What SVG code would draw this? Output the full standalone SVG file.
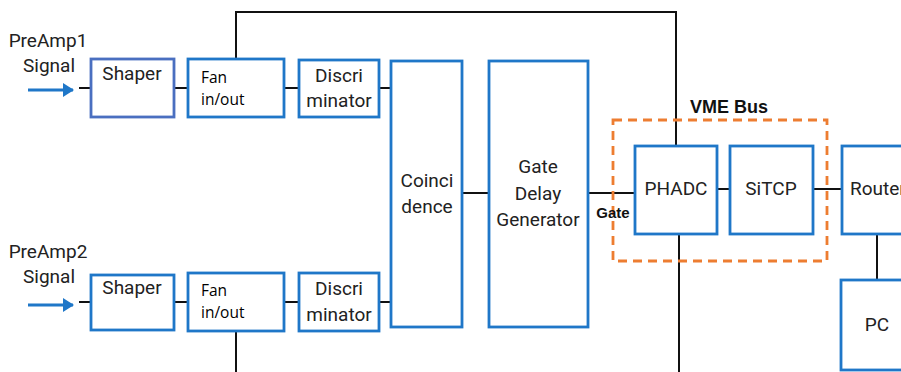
<svg xmlns="http://www.w3.org/2000/svg" width="901" height="372" viewBox="0 0 901 372">
<defs>
<marker id="ah" markerWidth="11" markerHeight="14" refX="10" refY="7" orient="auto" markerUnits="userSpaceOnUse">
<path d="M0,0 L11,7 L0,14 Z" fill="#1f77c8"/>
</marker>
<style>
.box{fill:#fff;stroke:#1f77c8;stroke-width:2.8}
.t{font-family:Roboto,"Liberation Sans",sans-serif;font-size:19px;fill:#222;text-anchor:middle}
.f{font-family:"Open Sans","Liberation Sans",sans-serif;font-size:15.5px;fill:#000}
.b{font-family:"Liberation Sans",Arial,sans-serif;font-weight:bold;fill:#111;text-anchor:middle}
.ln{stroke:#111;stroke-width:2;fill:none}
.ar{stroke:#1f77c8;stroke-width:3;fill:none}
</style>
</defs>
<rect width="901" height="372" fill="#fff"/>
<g id="connectors">
<polyline class="ln" points="236,59 236,12 676,12 676,146"/>
<line class="ln" x1="79" y1="88" x2="91" y2="88"/>
<line class="ln" x1="174" y1="88" x2="188" y2="88"/>
<line class="ln" x1="284" y1="88" x2="299" y2="88"/>
<line class="ln" x1="379" y1="88" x2="391" y2="88"/>
<line class="ln" x1="79" y1="302" x2="91" y2="302"/>
<line class="ln" x1="174" y1="302" x2="188" y2="302"/>
<line class="ln" x1="284" y1="302" x2="299" y2="302"/>
<line class="ln" x1="379" y1="302" x2="391" y2="302"/>
<line class="ln" x1="236" y1="331" x2="236" y2="372"/>
<line class="ln" x1="462" y1="193" x2="489" y2="193"/>
<line class="ln" x1="588" y1="193" x2="635" y2="193"/>
<line class="ln" x1="717" y1="189" x2="730" y2="189"/>
<line class="ln" x1="813" y1="189" x2="842" y2="189"/>
<line class="ln" x1="679" y1="234" x2="679" y2="372"/>
<line class="ln" x1="877" y1="234" x2="877" y2="280"/>
<line class="ar" x1="28" y1="90" x2="73" y2="90" marker-end="url(#ah)"/>
<line class="ar" x1="28" y1="305" x2="73" y2="305" marker-end="url(#ah)"/>
</g>
<g id="input1">
<text class="t" x="48" y="47">PreAmp1</text>
<text class="t" x="49" y="72">Signal</text>
</g>
<g id="input2">
<text class="t" x="48" y="258">PreAmp2</text>
<text class="t" x="49" y="283">Signal</text>
</g>
<g id="shaper1">
<rect class="box" x="91" y="59" width="83" height="58" style="stroke:#4a6fc0"/>
<text class="t" x="132" y="80">Shaper</text>
</g>
<g id="fan1">
<rect class="box" x="188" y="59" width="96" height="58"/>
<text class="f" x="201" y="83">Fan</text>
<text class="f" x="201" y="105">in/out</text>
</g>
<g id="disc1">
<rect class="box" x="299" y="60" width="80" height="57"/>
<text class="t" x="339" y="82">Discri</text>
<text class="t" x="339" y="107">minator</text>
</g>
<g id="shaper2">
<rect class="box" x="91" y="275" width="83" height="55"/>
<text class="t" x="132" y="294">Shaper</text>
</g>
<g id="fan2">
<rect class="box" x="188" y="273" width="96" height="58"/>
<text class="f" x="201" y="296">Fan</text>
<text class="f" x="201" y="318">in/out</text>
</g>
<g id="disc2">
<rect class="box" x="299" y="273" width="80" height="58"/>
<text class="t" x="339" y="295">Discri</text>
<text class="t" x="339" y="321">minator</text>
</g>
<g id="coincidence">
<rect class="box" x="391" y="61" width="71" height="266"/>
<text class="t" x="427" y="187">Coinci</text>
<text class="t" x="427" y="213">dence</text>
</g>
<g id="gdg">
<rect class="box" x="489" y="61" width="99" height="266"/>
<text class="t" x="538" y="173">Gate</text>
<text class="t" x="538" y="200">Delay</text>
<text class="t" x="538" y="226">Generator</text>
</g>
<g id="vmebus">
<rect x="613" y="120" width="214" height="141" fill="none" stroke="#ed7d31" stroke-width="2.8" stroke-dasharray="9,6"/>
<text class="b" x="729" y="113" font-size="18">VME Bus</text>
</g>
<g id="gatelabel">
<text class="b" x="613" y="218" font-size="15">Gate</text>
</g>
<g id="phadc">
<rect class="box" x="635" y="146" width="82" height="88"/>
<text class="t" x="676" y="195">PHADC</text>
</g>
<g id="sitcp">
<rect class="box" x="730" y="146" width="83" height="88"/>
<text class="t" x="771" y="195">SiTCP</text>
</g>
<g id="router">
<rect class="box" x="842" y="146" width="80" height="88"/>
<text class="t" x="850" y="195" style="text-anchor:start">Router</text>
</g>
<g id="pc">
<rect class="box" x="841" y="280" width="80" height="90"/>
<text class="t" x="877" y="331">PC</text>
</g>
</svg>
